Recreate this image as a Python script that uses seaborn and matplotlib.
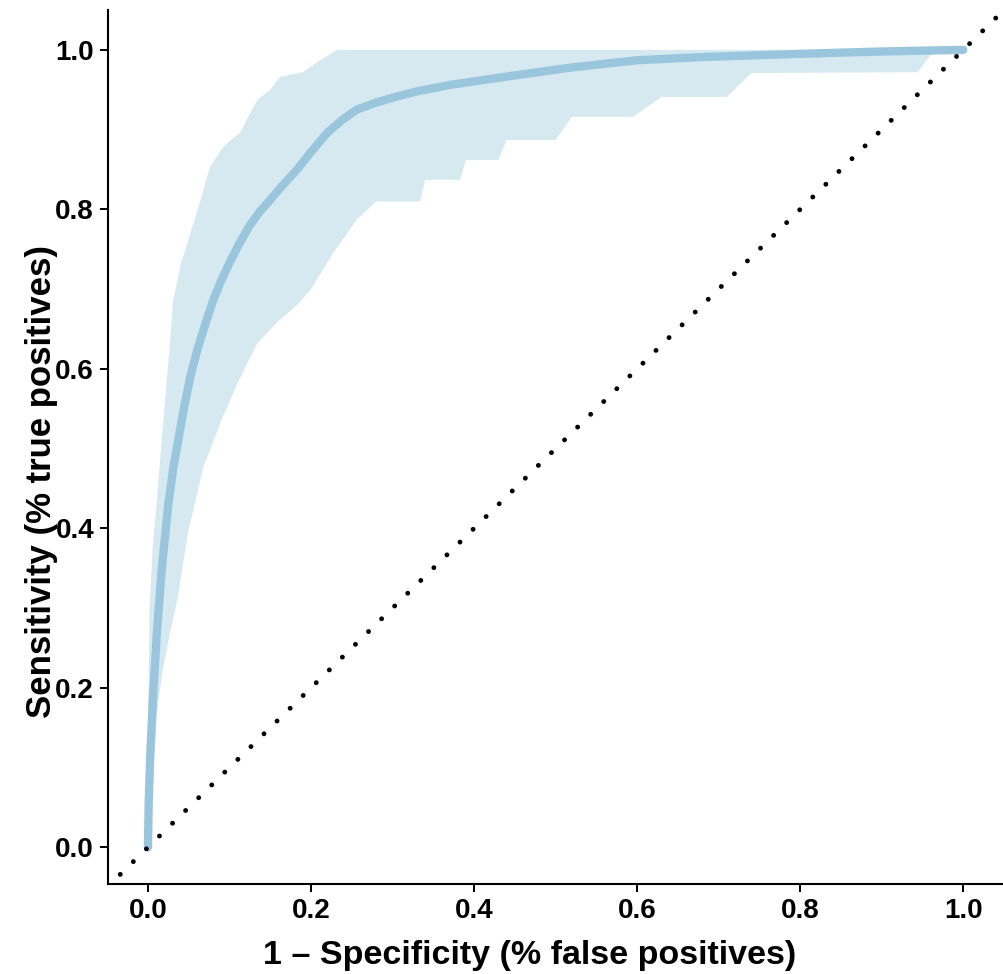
import numpy as np
import pandas as pd
import matplotlib
matplotlib.use("Agg")
import matplotlib.pyplot as plt
import seaborn as sns

# ---- data ----
fpr_mean = [0, 0.001, 0.003, 0.006, 0.011, 0.017, 0.025, 0.031, 0.037, 0.045, 0.052,
            0.06, 0.07, 0.08, 0.09, 0.10, 0.112, 0.125, 0.137, 0.15, 0.165, 0.183,
            0.20, 0.22, 0.238, 0.256, 0.28, 0.30, 0.33, 0.37, 0.41, 0.45, 0.52, 0.60,
            0.68, 0.80, 0.90, 1.0]
tpr_mean = [0, 0.06, 0.12, 0.184, 0.27, 0.35, 0.43, 0.475, 0.51, 0.555, 0.59,
            0.622, 0.655, 0.686, 0.711, 0.733, 0.757, 0.78, 0.797, 0.812, 0.83, 0.85,
            0.872, 0.896, 0.912, 0.925, 0.934, 0.94, 0.948, 0.956, 0.962, 0.968, 0.978, 0.987,
            0.991, 0.995, 0.998, 1.0]

upper_x = [0, 0, 0.002, 0.006, 0.011, 0.016, 0.021, 0.026, 0.031, 0.040, 0.052,
           0.064, 0.076, 0.090, 0.097, 0.113, 0.125, 0.134, 0.150, 0.162, 0.190,
           0.211, 0.232, 1.0]
upper_y = [0, 0.15, 0.30, 0.38, 0.435, 0.50, 0.56, 0.62, 0.686, 0.73, 0.77,
           0.81, 0.853, 0.875, 0.883, 0.896, 0.92, 0.937, 0.95, 0.966, 0.972,
           0.987, 1.0, 1.0]

lower_x = [0, 0.008, 0.011, 0.018, 0.027, 0.036, 0.049, 0.068, 0.092, 0.109, 0.134,
           0.146, 0.16, 0.183, 0.20, 0.227, 0.256, 0.28, 0.334, 0.34, 0.383, 0.39,
           0.43, 0.44, 0.50, 0.52, 0.595, 0.63, 0.71, 0.74, 0.944, 0.965, 1.0]
lower_y = [0, 0.12, 0.168, 0.222, 0.268, 0.31, 0.394, 0.477, 0.54, 0.58, 0.632,
           0.645, 0.66, 0.68, 0.70, 0.745, 0.787, 0.81, 0.81, 0.837, 0.837, 0.862,
           0.862, 0.887, 0.887, 0.916, 0.916, 0.941, 0.941, 0.971, 0.972, 1.0, 1.0]

diag = [-0.05, 1.05]

x_ticks = [0.0, 0.2, 0.4, 0.6, 0.8, 1.0]
y_ticks = [0.0, 0.2, 0.4, 0.6, 0.8, 1.0]
x_label = "1 \u2013 Specificity (% false positives)"
y_label = "Sensitivity (% true positives)"

# ---- style ----
sns.set_style("ticks")
plt.rcParams['font.family'] = ['Liberation Sans', 'DejaVu Sans']
plt.rcParams['text.color'] = 'black'
plt.rcParams['axes.labelcolor'] = 'black'
plt.rcParams['xtick.color'] = 'black'
plt.rcParams['ytick.color'] = 'black'

fig = plt.figure(figsize=(10.04, 9.74), dpi=100)
ax = fig.add_axes([108/1004, 90/974, 896/1004, 874/974])

line_col = "#9ac6dd"
fill_col = "#d6e9f1"

# confidence band
poly_x = np.concatenate([upper_x, lower_x[::-1]])
poly_y = np.concatenate([upper_y, lower_y[::-1]])
ax.fill(poly_x, poly_y, color=fill_col, lw=0, zorder=1)

# mean ROC
df = pd.DataFrame({"fpr": fpr_mean, "tpr": tpr_mean})
sns.lineplot(data=df, x="fpr", y="tpr", ax=ax, color=line_col, lw=6,
             sort=False, estimator=None, zorder=2)

# chance diagonal
ax.plot(diag, diag, color="black", lw=3.5, linestyle=(0, (0.01, 3.75)),
        dash_capstyle="round", zorder=3)

ax.set_xlim(-0.049, 1.05)
ax.set_ylim(-0.046, 1.05)
ax.set_xticks(x_ticks)
ax.set_yticks(y_ticks)
ax.set_xticklabels([f"{v:.1f}" for v in x_ticks], fontsize=20, fontweight="bold")
ax.set_yticklabels([f"{v:.1f}" for v in y_ticks], fontsize=20, fontweight="bold")
ax.tick_params(axis="both", length=6, width=1.4, color="black", pad=4)

for s in ["top", "right"]:
    ax.spines[s].set_visible(False)
for s in ["left", "bottom"]:
    ax.spines[s].set_linewidth(1.5)
    ax.spines[s].set_color("black")

ax.set_xlabel(x_label, fontsize=24.5, fontweight="bold")
ax.set_ylabel(y_label, fontsize=25, fontweight="bold")
ax.xaxis.set_label_coords(0.471, -0.0915)
ax.yaxis.set_label_coords(-0.074, 0.46)
ax.xaxis.label.set_va("baseline")
ax.yaxis.label.set_va("center")

fig.savefig("out.png", dpi=100)
